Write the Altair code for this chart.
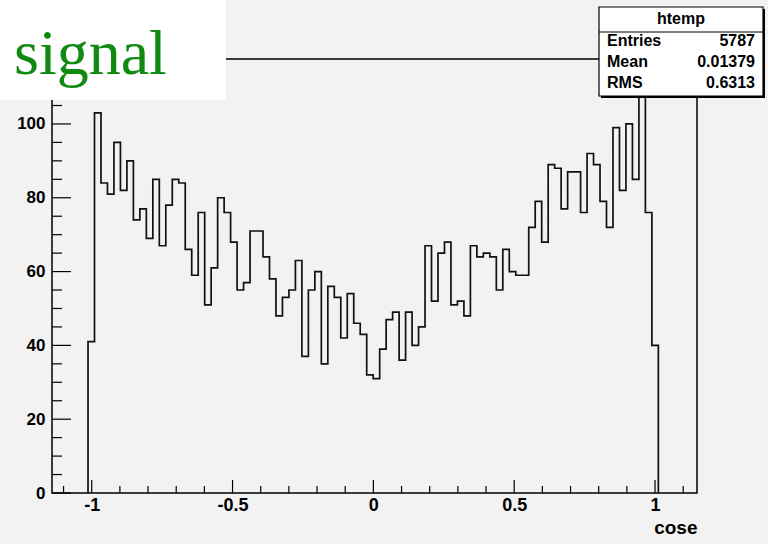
import altair as alt
import pandas as pd

# ---- data (88 filled bins) ----
COUNTS = [41, 103, 84, 81, 95, 82, 90, 74, 77, 69, 85, 67, 78, 85, 84,
          66, 59, 76, 51, 61, 80, 76, 68, 55, 57, 71, 71, 64, 58,
          48, 53, 55, 63, 37, 55, 60, 35, 56, 53, 42, 54, 46, 43, 32,
          31, 39, 47, 49, 36, 49, 40, 45, 67, 52, 65, 68, 51, 52, 48,
          67, 64, 65, 64, 55, 66, 60, 59, 59, 72, 79, 68,
          89, 88, 77, 87, 87, 76, 92, 89, 79, 72, 99, 82, 100, 85, 112, 76, 40]
BIN_LO = -1.0131
BIN_WIDTH = 0.02301

X_DOMAIN = [-1.141, 1.149]
Y_DOMAIN = [0, 117.6]
X_LABELS = [-1, -0.5, 0, 0.5, 1]
Y_LABELS = [0, 20, 40, 60, 80, 100]
X_MINOR = [round(-1.1 + 0.1 * i, 2) for i in range(23)]
Y_MINOR = [5 * i for i in range(24)]

STAT_NAMES = ["Entries", "Mean", "RMS"]
STAT_VALUES = ["5787", "0.01379", "0.6313"]
HIST_NAME = "htemp"
X_TITLE = "cose"
LABEL = "signal"

W, H = 645, 434
BG = "#f2f2f2"
FONT = "Liberation Sans"

# step outline
n = len(COUNTS)
xs = [BIN_LO] + [BIN_LO + i * BIN_WIDTH for i in range(n)] + [BIN_LO + n * BIN_WIDTH]
ys = [0] + COUNTS + [0]
hist_df = pd.DataFrame({"i": list(range(len(xs))), "x": xs, "y": ys})

xscale = alt.Scale(domain=X_DOMAIN, nice=False, zero=False)
yscale = alt.Scale(domain=Y_DOMAIN, nice=False, zero=False)

hist = alt.Chart(hist_df).mark_line(
    interpolate="step-after", color="#111111", strokeWidth=1.7
).encode(
    x=alt.X("x:Q", scale=xscale, axis=alt.Axis(
        values=X_LABELS, labelExpr="'' + datum.value", domain=False, ticks=False,
        grid=False, labelFont=FONT, labelFontWeight="bold", labelFontSize=18,
        labelColor="black", labelPadding=3, labelFlush=False, labelOverlap=False,
        title=X_TITLE, titleAnchor="end", titleFont=FONT, titleFontSize=19,
        titleFontWeight="bold", titleColor="black", titlePadding=4)),
    y=alt.Y("y:Q", scale=yscale, axis=alt.Axis(
        values=Y_LABELS, domain=False, ticks=False, grid=False, labelFont=FONT,
        labelFontWeight="bold", labelFontSize=17, labelColor="black",
        labelPadding=7, labelFlush=False, labelOverlap=False, title=None)),
    order="i:Q",
)

# inward ticks (ROOT style)
ytick_df = pd.DataFrame({"v": Y_MINOR})
ytick_df["major"] = ytick_df["v"] % 20 == 0
xtick_df = pd.DataFrame({"v": X_MINOR})
xtick_df["major"] = [abs(v * 2 - round(v * 2)) < 1e-6 for v in X_MINOR]

def yticks(major, length):
    return alt.Chart(ytick_df[ytick_df["major"] == major]).mark_rule(
        color="black", strokeWidth=1.2).encode(
        y=alt.Y("v:Q", scale=yscale), x=alt.value(0), x2=alt.value(length))

def xticks(major, length):
    return alt.Chart(xtick_df[xtick_df["major"] == major]).mark_rule(
        color="black", strokeWidth=1.2).encode(
        x=alt.X("v:Q", scale=xscale), y=alt.value(H), y2=alt.value(H - length))

one = alt.Data(values=[{}])

def rect(x, x2, y, y2, fill, stroke=None, sw=0):
    kw = dict(fill=fill)
    if stroke:
        kw.update(stroke=stroke, strokeWidth=sw)
    return alt.Chart(one).mark_rect(**kw).encode(
        x=alt.value(x), x2=alt.value(x2), y=alt.value(y), y2=alt.value(y2))

def text(t, x, y, size, align="left", weight="bold", font=FONT, color="black"):
    return alt.Chart(one).mark_text(
        text=t, align=align, baseline="middle", font=font, fontSize=size,
        fontWeight=weight, color=color).encode(x=alt.value(x), y=alt.value(y))

# "signal" label box (top-left)
sig_box = rect(-52, 174, -59, 41, "white")
sig_text = text(LABEL, -38, -4, 64, weight="normal", font="Liberation Serif",
                color="#118a11")

# stats box
L0, R0, T0, B0 = 547, 711, -52, 37
stat_layers = [
    rect(L0 + 2, R0 + 2, T0 + 2, B0 + 2, "black"),
    rect(L0, R0, T0, B0, "white", "black", 1.2),
    alt.Chart(one).mark_rule(color="black", strokeWidth=1).encode(
        x=alt.value(L0), x2=alt.value(R0), y=alt.value(-27)),
    text(HIST_NAME, (L0 + R0) / 2, -40, 16, align="center"),
]
row_y = [-18, 3, 24]
for name, val, yy in zip(STAT_NAMES, STAT_VALUES, row_y):
    stat_layers.append(text(name, L0 + 8, yy, 16))
    stat_layers.append(text(val, R0 - 8, yy, 16, align="right"))

chart = alt.layer(
    hist, yticks(True, 19), yticks(False, 10), xticks(True, 13), xticks(False, 7),
    sig_box, sig_text, *stat_layers
).properties(
    width=W, height=H, background=BG,
    padding={"left": 52, "top": 59, "right": 71, "bottom": 51},
    autosize=alt.AutoSizeParams(type="none"),
).configure_view(stroke="black", strokeWidth=1.5, fill=BG)

chart.save("out.html", embed_options={"renderer": "svg", "actions": False})
